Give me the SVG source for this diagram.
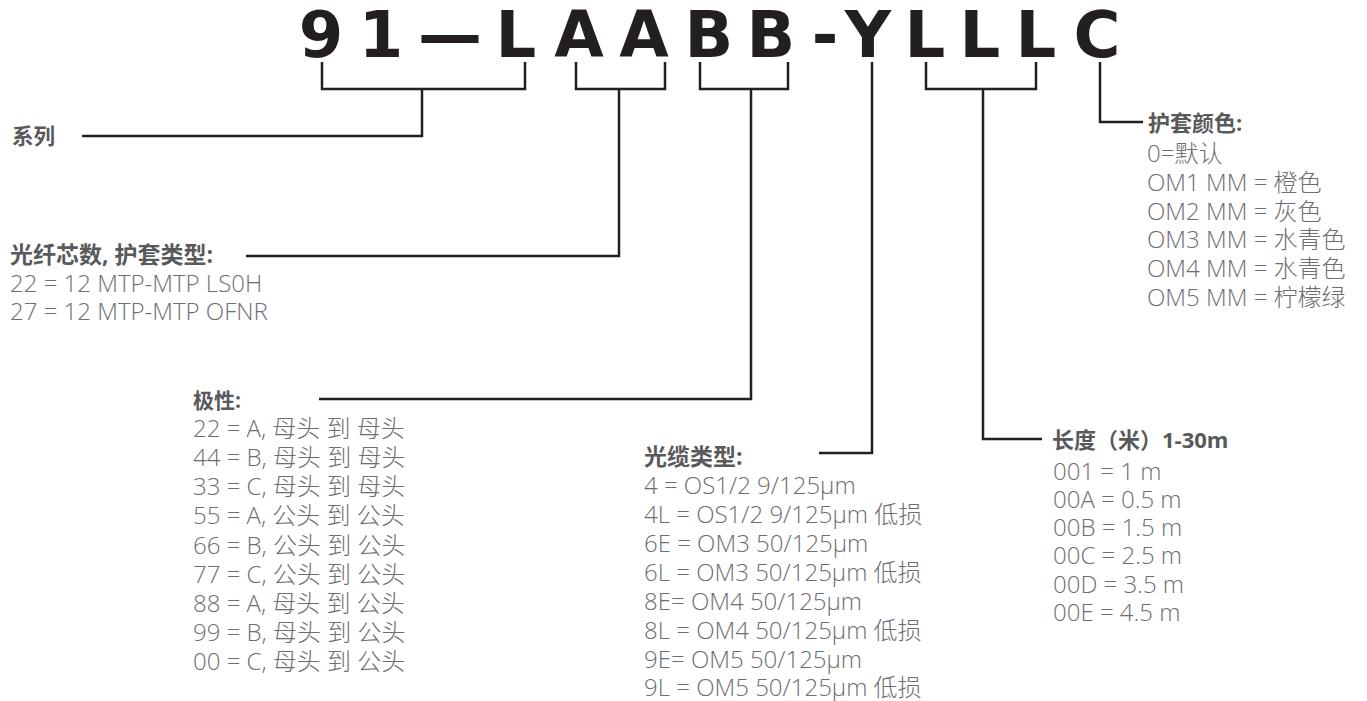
<svg xmlns="http://www.w3.org/2000/svg" width="1367" height="701" viewBox="0 0 1367 701">
<style>
.t{font-family:"DejaVu Sans",sans-serif;font-weight:bold;font-size:64px;fill:#231f20;text-anchor:middle}
.h{font-family:"Open Sans","Noto Sans CJK SC",sans-serif;font-weight:bold;font-size:22px;fill:#58595b}
.b{font-family:"Open Sans","Noto Sans CJK SC",sans-serif;font-weight:300;font-size:24px;fill:#6d6e71}
.c{fill:none;stroke:#231f20;stroke-width:2.5}
</style>
<rect width="1367" height="701" fill="#fff"/>
<g id="code">
<text class="t" x="321" y="57">9</text>
<text class="t" x="381" y="57">1</text>
<text class="t" x="450" y="57">—</text>
<text class="t" x="516" y="57">L</text>
<text class="t" x="579" y="57">A</text>
<text class="t" x="644" y="57">A</text>
<text class="t" x="709" y="57">B</text>
<text class="t" x="771" y="57">B</text>
<text class="t" x="825" y="57">-</text>
<text class="t" x="868" y="57">Y</text>
<text class="t" x="925" y="57">L</text>
<text class="t" x="980" y="57">L</text>
<text class="t" x="1036" y="57">L</text>
<text class="t" x="1097" y="57">C</text>
</g>
<g id="connectors">
<path class="c" d="M322,62V89H525V62M422,89V136H82"/>
<path class="c" d="M576,62V89H665V62M619,89V256H246"/>
<path class="c" d="M700,62V89H788V62M751,89V399H319"/>
<path class="c" d="M872,62V453H819"/>
<path class="c" d="M926,62V89H1036V62M983,89V439H1042"/>
<path class="c" d="M1100,62V122H1143"/>
</g>
<g id="series">
<text class="h" x="12" y="144" style="font-size:21.5px">系列</text>
</g>
<g id="fiber">
<text class="h" x="10" y="263" style="font-size:23px">光纤芯数, 护套类型:</text>
<text class="b" x="10" y="292">22 = 12 MTP-MTP LS0H</text>
<text class="b" x="10" y="320">27 = 12 MTP-MTP OFNR</text>
</g>
<g id="polarity">
<text class="h" x="193" y="408" style="font-size:21px">极性:</text>
<text class="b" x="193" y="437">22 = A, 母头 到 母头</text>
<text class="b" x="193" y="466">44 = B, 母头 到 母头</text>
<text class="b" x="193" y="495">33 = C, 母头 到 母头</text>
<text class="b" x="193" y="524">55 = A, 公头 到 公头</text>
<text class="b" x="193" y="554">66 = B, 公头 到 公头</text>
<text class="b" x="193" y="583">77 = C, 公头 到 公头</text>
<text class="b" x="193" y="612">88 = A, 母头 到 公头</text>
<text class="b" x="193" y="641">99 = B, 母头 到 公头</text>
<text class="b" x="193" y="670">00 = C, 母头 到 公头</text>
</g>
<g id="cable">
<text class="h" x="644" y="465" style="font-size:23px">光缆类型:</text>
<text class="b" x="644" y="494">4 = OS1/2 9/125μm</text>
<text class="b" x="644" y="523">4L = OS1/2 9/125μm 低损</text>
<text class="b" x="644" y="552">6E = OM3 50/125μm</text>
<text class="b" x="644" y="581">6L = OM3 50/125μm 低损</text>
<text class="b" x="644" y="610">8E= OM4 50/125μm</text>
<text class="b" x="644" y="639">8L = OM4 50/125μm 低损</text>
<text class="b" x="644" y="668">9E= OM5 50/125μm</text>
<text class="b" x="644" y="696">9L = OM5 50/125μm 低损</text>
</g>
<g id="length">
<text class="h" x="1052" y="448">长度（米）1-30m</text>
<text class="b" x="1053" y="480">001 = 1 m</text>
<text class="b" x="1053" y="508">00A = 0.5 m</text>
<text class="b" x="1053" y="536">00B = 1.5 m</text>
<text class="b" x="1053" y="564">00C = 2.5 m</text>
<text class="b" x="1053" y="593">00D = 3.5 m</text>
<text class="b" x="1053" y="621">00E = 4.5 m</text>
</g>
<g id="jacket">
<text class="h" x="1148" y="131">护套颜色:</text>
<text class="b" x="1147" y="162">0=默认</text>
<text class="b" x="1147" y="191">OM1 MM = 橙色</text>
<text class="b" x="1147" y="220">OM2 MM = 灰色</text>
<text class="b" x="1147" y="248">OM3 MM = 水青色</text>
<text class="b" x="1147" y="277">OM4 MM = 水青色</text>
<text class="b" x="1147" y="306">OM5 MM = 柠檬绿</text>
</g>
</svg>
